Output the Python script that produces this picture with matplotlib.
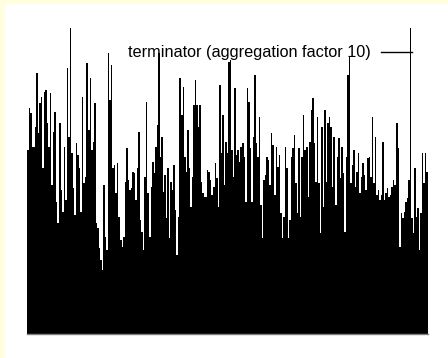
import matplotlib
matplotlib.use("Agg")
import matplotlib.pyplot as plt
import numpy as np
from matplotlib.lines import Line2D
from matplotlib.patches import Rectangle

seg_a = [184, 226, 221, 187, 187, 207, 261, 201, 231, 237, 166, 242, 244, 211, 187,
         241, 149, 202, 222, 132, 111, 211, 144, 122, 187, 134, 266, 197, 306, 181,
         146, 119, 191, 179, 166, 122, 237, 151, 157, 271, 204, 256, 184, 192, 231,
         111, 106, 86, 74, 64, 149, 97, 84, 281, 234, 269, 166, 169, 141, 171,
         117, 94, 87, 97, 152, 186, 154, 144, 146, 162, 161, 134, 166, 202, 114,
         102, 84, 157, 232, 141, 97, 147, 172, 161, 187, 209, 281]
seg_b = [177, 197, 142, 159, 116, 166, 96, 152, 144, 169, 124, 79, 117, 256, 219,
         247, 177, 162, 204, 166, 127, 157, 229, 254, 229, 207, 229, 152, 141, 137,
         137, 164, 162, 154, 139, 147, 171, 156, 127, 249, 181, 219, 149, 192, 181,
         272, 274, 184, 157, 246, 179, 184, 172, 187, 191, 177, 132, 246, 232, 186,
         132, 197, 259, 191, 177, 217, 129, 96, 154, 159, 177, 174, 149, 201, 189,
         139, 187, 167, 179, 121, 96, 117, 187, 166, 96, 114, 177, 186]
seg_c = [199, 151, 121, 186, 117, 177, 219, 184, 187, 137, 192, 224, 236, 191, 152,
         217, 151, 101, 207, 127, 224, 152, 211, 217, 207, 147, 197, 129, 177, 196,
         156, 187, 161, 102, 177, 259, 277, 151, 169, 184, 147, 162, 181, 141, 157,
         171, 159, 144, 176, 177, 157, 217, 151, 197, 139, 144, 134, 139, 192, 134,
         141, 146, 137, 139, 147, 154, 149, 211, 186, 87, 121, 116, 122, 132, 136,
         154, 306, 116, 101, 166, 117, 126, 84, 121, 181, 151, 181, 162]
values = np.array(seg_a + seg_b + seg_c)
label = "terminator (aggregation factor 10)"

W, H = 448, 358
fig = plt.figure(figsize=(W / 100, H / 100), dpi=100, facecolor="white")

# pale yellow page edge on the left and top
fig.add_artist(Rectangle((0, 0), 5 / W, 1, transform=fig.transFigure,
                         color="#ffffe0", lw=0))
fig.add_artist(Rectangle((0, 1 - 4 / H), 1, 4 / H, transform=fig.transFigure,
                         color="#ffffe0", lw=0))

ax = fig.add_axes([27 / W, (H - 334) / H, (428 - 27) / W, (334 - 20) / H])
ax.set_facecolor("none")
x = np.arange(len(values))
ax.bar(x, values, width=1.0, color="black", linewidth=0)
ax.set_xlim(-0.5, len(values) - 0.5)
ax.set_ylim(0, 314)
ax.set_xticks([]); ax.set_yticks([])
for s in ("top", "left", "right"):
    ax.spines[s].set_visible(False)
ax.spines["bottom"].set_color("#808080")
ax.spines["bottom"].set_linewidth(1)

# key, gnuplot style
ky = 1 - 52 / H
fig.text(371 / W, ky, label, ha="right", va="center", fontsize=11.7,
         family="Liberation Sans", color="black")
fig.add_artist(Line2D([381 / W, 412 / W], [ky, ky], transform=fig.transFigure,
                      color="black", lw=1))

fig.savefig("out.png", dpi=100)
